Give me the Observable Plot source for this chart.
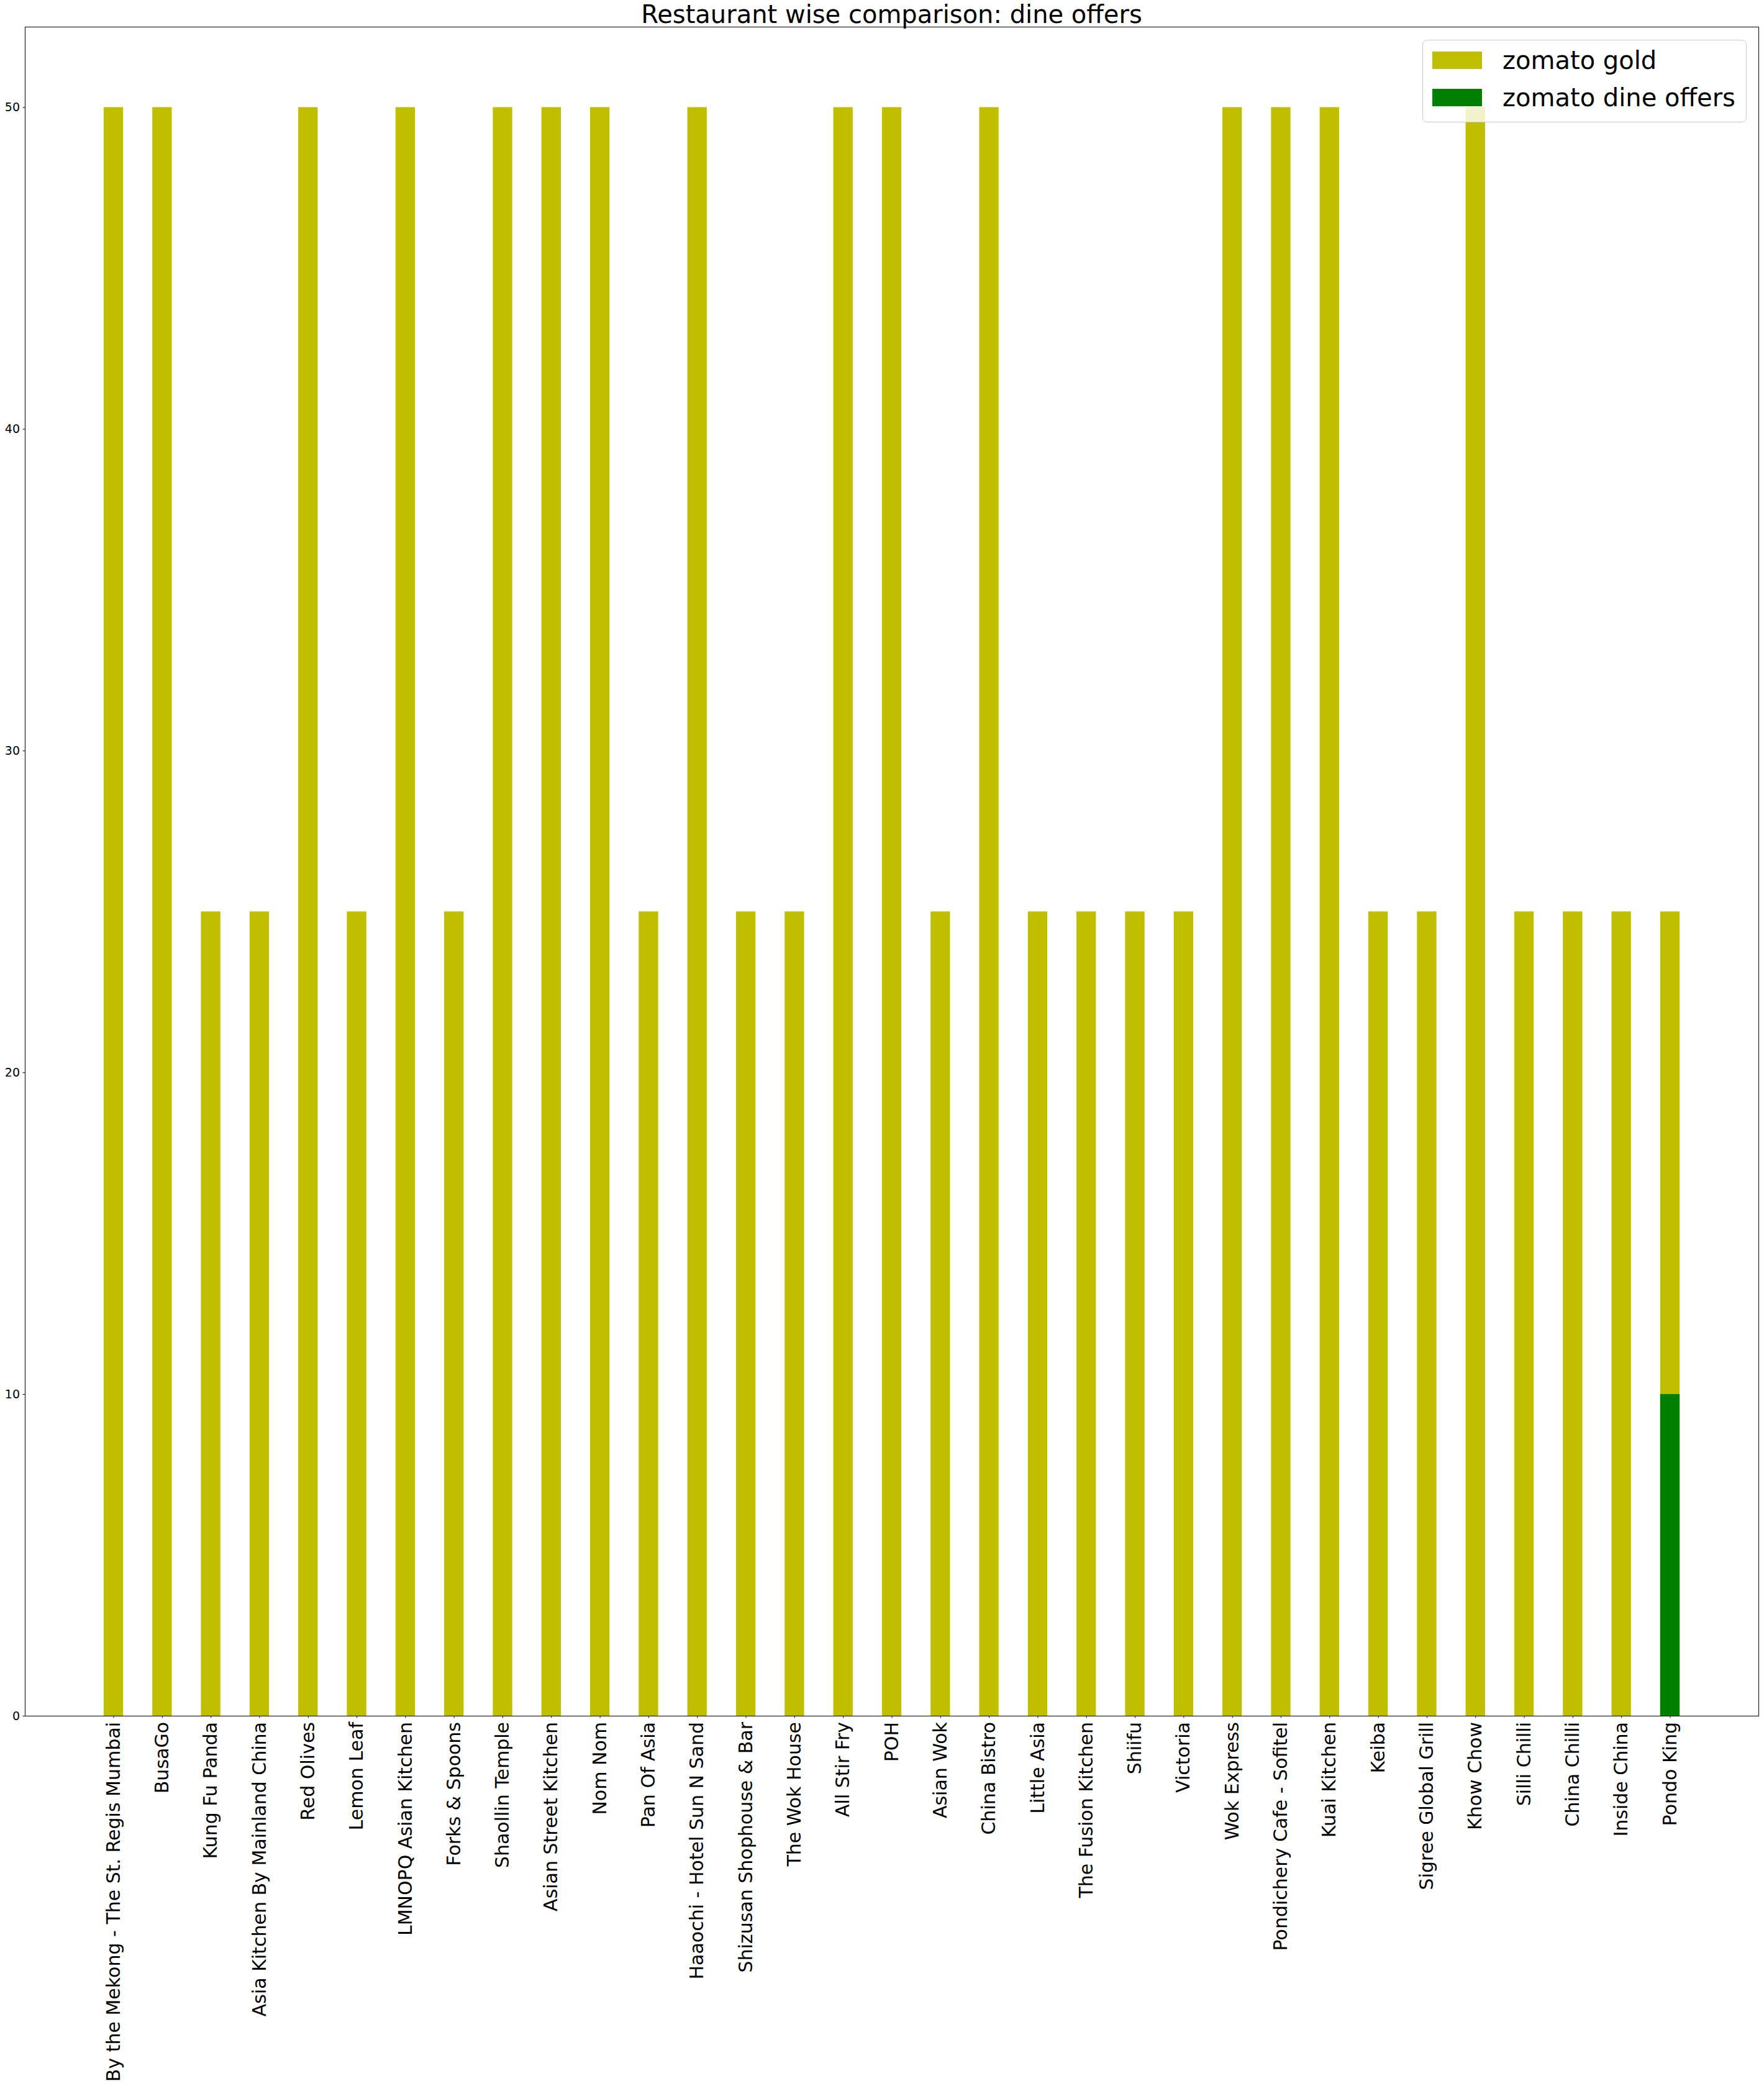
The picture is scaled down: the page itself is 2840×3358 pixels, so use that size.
<!DOCTYPE html>
<html>
<head>
<meta charset="utf-8">
<script src="https://cdn.jsdelivr.net/npm/d3@7"></script>
<script src="https://cdn.jsdelivr.net/npm/@observablehq/plot@0.6"></script>
<style>
  html, body { margin: 0; padding: 0; background: #fff; }
  #wrap { position: relative; width: 2840px; height: 3358px; font-family: "DejaVu Sans", sans-serif; color: #000; }
  #wrap svg { position: absolute; left: 0; top: 0; }
  #title { position: absolute; left: 40px; width: 2791px; top: 3px; text-align: center; font-size: 40px; line-height: 40px; white-space: nowrap; }
  #legend { position: absolute; left: 2290px; top: 64px; width: 520px; height: 131px; border: 1px solid #cccccc; border-radius: 8px; background: rgba(255,255,255,0.8); }
  .sw { position: absolute; left: 15px; width: 80px; height: 28px; }
  .lt { position: absolute; left: 128px; font-size: 40px; line-height: 40px; white-space: nowrap; }
</style>
</head>
<body>
<div id="wrap"></div>
<script>
const titleText = "Restaurant wise comparison: dine offers";
const restaurants = [
  "By the Mekong - The St. Regis Mumbai", "BusaGo", "Kung Fu Panda", "Asia Kitchen By Mainland China",
  "Red Olives", "Lemon Leaf", "LMNOPQ Asian Kitchen", "Forks & Spoons", "Shaollin Temple",
  "Asian Street Kitchen", "Nom Nom", "Pan Of Asia", "Haaochi - Hotel Sun N Sand",
  "Shizusan Shophouse & Bar", "The Wok House", "All Stir Fry", "POH", "Asian Wok", "China Bistro",
  "Little Asia", "The Fusion Kitchen", "Shiifu", "Victoria", "Wok Express",
  "Pondichery Cafe - Sofitel", "Kuai Kitchen", "Keiba", "Sigree Global Grill", "Khow Chow",
  "Silli Chilli", "China Chilli", "Inside China", "Pondo King"
];
const zomatoGold = [50, 50, 25, 25, 50, 25, 50, 25, 50, 50, 50, 25, 50, 25, 25, 50, 50, 25, 50, 25, 25, 25, 25, 50, 50, 50, 25, 25, 50, 25, 25, 25, 25];
const dineOffers = [0, 0, 0, 0, 0, 0, 0, 0, 0, 0, 0, 0, 0, 0, 0, 0, 0, 0, 0, 0, 0, 0, 0, 0, 0, 0, 0, 0, 0, 0, 0, 0, 10];
const yTicks = [0, 10, 20, 30, 40, 50];
const seriesNames = ["zomato gold", "zomato dine offers"];
const seriesColors = ["#bfbf00", "#008000"];

const rows = restaurants.map((name, i) => ({ name, gold: zomatoGold[i], dine: dineOffers[i] }));

const chart = Plot.plot({
  width: 2840,
  height: 3358,
  marginLeft: 40,
  marginRight: 9,
  marginTop: 43,
  marginBottom: 596,
  style: { fontFamily: "DejaVu Sans", background: "white", color: "black", overflow: "visible" },
  x: { domain: restaurants, paddingInner: 0.6, paddingOuter: 1.62, round: false, label: null },
  y: { domain: [0, 52.5], label: null },
  marks: [
    Plot.barY(rows, { x: "name", y: "gold", fill: seriesColors[0] }),
    Plot.barY(rows.filter(d => d.dine > 0), { x: "name", y: "dine", fill: seriesColors[1] }),
    Plot.axisY({ ticks: yTicks, tickSize: 3.5, tickPadding: 5, fontSize: 19, label: null, stroke: "black" }),
    Plot.axisX({ tickSize: 3.5, tickPadding: 6, tickRotate: -90, fontSize: 30, label: null, stroke: "black" }),
    Plot.frame({ stroke: "#222", strokeWidth: 1.2 })
  ]
});

const wrap = document.getElementById("wrap");
wrap.appendChild(chart);

const t = document.createElement("div");
t.id = "title";
t.textContent = titleText;
wrap.appendChild(t);

const lg = document.createElement("div");
lg.id = "legend";
seriesNames.forEach((n, i) => {
  const sw = document.createElement("div");
  sw.className = "sw";
  sw.style.top = (18 + i * 60) + "px";
  sw.style.background = seriesColors[i];
  lg.appendChild(sw);
  const lt = document.createElement("div");
  lt.className = "lt";
  lt.style.top = (12 + i * 60) + "px";
  lt.textContent = n;
  lg.appendChild(lt);
});
wrap.appendChild(lg);
</script>
</body>
</html>
